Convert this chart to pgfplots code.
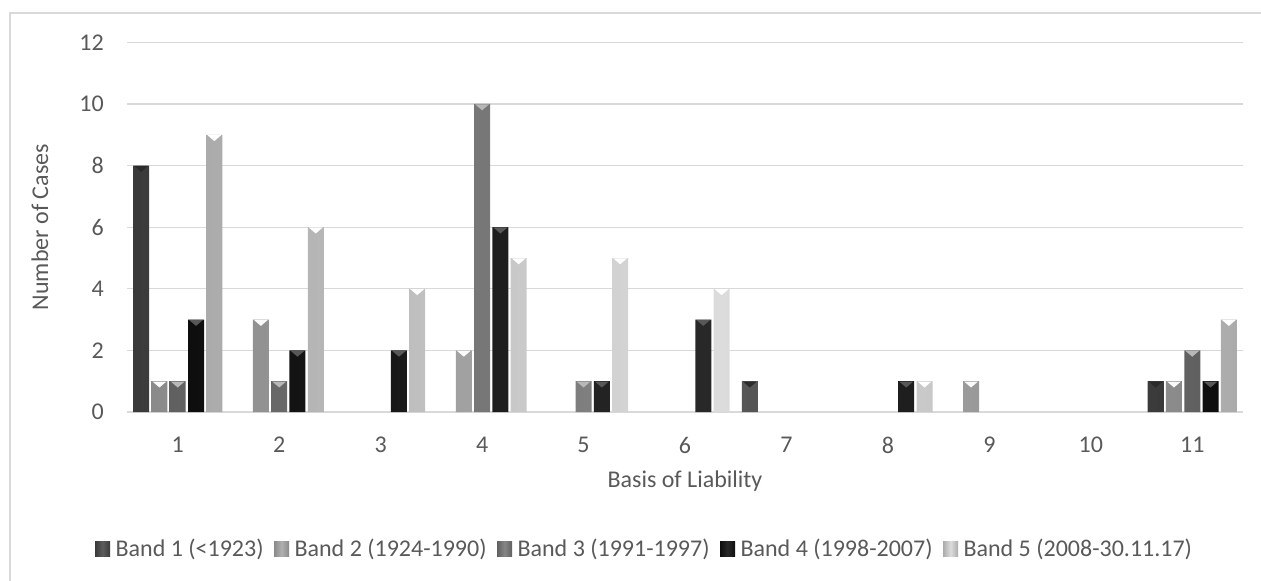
\documentclass[border=0pt]{standalone}
\usepackage{fontspec}
\setmainfont{Carlito}
\usepackage{pgfplots}
\pgfplotsset{compat=1.18}
\definecolor{txt}{HTML}{595959}
\definecolor{gridc}{HTML}{D9D9D9}
\definecolor{bAe}{HTML}{3A3A3A}\definecolor{bAm}{HTML}{5C5C5C}\definecolor{bAt}{HTML}{2A2A2A}
\definecolor{bBe}{HTML}{8A8A8A}\definecolor{bBm}{HTML}{B0B0B0}\definecolor{bBt}{HTML}{FAFAFA}
\definecolor{bCe}{HTML}{606060}\definecolor{bCm}{HTML}{868686}\definecolor{bCt}{HTML}{B8B8B8}
\definecolor{bDe}{HTML}{0E0E0E}\definecolor{bDm}{HTML}{282828}\definecolor{bDt}{HTML}{585858}
\definecolor{bEe}{HTML}{ABABAB}\definecolor{bEm}{HTML}{DCDCDC}\definecolor{bEt}{HTML}{FFFFFF}
\pgfplotsset{
  bandbar/.style n args={3}{draw=none, left color=#1, right color=#1, middle color=#2,
    nodes near coords={\tikz\path[left color=#3, right color=#3, middle color=#3] (0bp,0bp)--(14bp,0bp)--(7bp,-6bp)--cycle;},
    every node near coord/.append style={anchor=north, inner sep=0pt, outer sep=0pt, yshift=-0.3bp},
    legend image code/.code={\fill[##1] (0bp,-7.5bp) rectangle (15bp,7.5bp); \path (0bp,0bp) -- (18bp,0bp);}},
}
\newcommand\cfont{\fontsize{24bp}{28bp}\selectfont}
\begin{document}
\begin{tikzpicture}[font=\cfont]
\path[use as bounding box] (-127bp,-169bp) rectangle (1134bp,412bp);
\draw[gridc, line width=1.3bp] (-117bp,-175bp) -- (-117bp,399bp) -- (1140bp,399bp);
\begin{axis}[
  at={(0bp,0bp)}, anchor=south west,
  scale only axis, width=1116bp, height=369.6bp,
  xmin=0.5, xmax=11.5, ymin=0, ymax=12,
  xtick={1,...,11}, ytick={0,2,...,12},
  axis line style={draw=none}, major tick length=0pt,
  ymajorgrids, grid style={gridc, line width=1.3bp},
  ybar=2.3bp, bar width=16bp,
  tick label style={font=\cfont, text=txt},
  /pgf/number format/assume math mode=true,
  xticklabel style={anchor=center, yshift=-33bp},
  yticklabel style={anchor=east, inner sep=0pt, xshift=-23bp},
  xlabel={Basis of Liability}, ylabel={Number of Cases},
  label style={font=\cfont, text=txt},
  xlabel style={at={(axis description cs:0.5,-0.186)}, anchor=center},
  ylabel style={at={(axis description cs:-0.078,0.5)}, anchor=center},
  legend columns=5,
  legend style={at={(axis description cs:0.464,-0.370)}, anchor=center,
    draw=none, fill=none, font=\cfont, text=txt,
    /tikz/every even column/.append style={column sep=8bp},
    nodes={inner sep=2.5bp}},
]
\addplot[bandbar={bAe}{bAm}{bAt}] coordinates {(1,8) (7,1) (11,1)};
\addplot[bandbar={bBe}{bBm}{bBt}] coordinates {(1,1) (2,3) (4,2) (9,1) (11,1)};
\addplot[bandbar={bCe}{bCm}{bCt}] coordinates {(1,1) (2,1) (4,10) (5,1) (11,2)};
\addplot[bandbar={bDe}{bDm}{bDt}] coordinates {(1,3) (2,2) (3,2) (4,6) (5,1) (6,3) (8,1) (11,1)};
\addplot[bandbar={bEe}{bEm}{bEt}] coordinates {(1,9) (2,6) (3,4) (4,5) (5,5) (6,4) (8,1) (11,3)};
\legend{Band 1 (<1923), Band 2 (1924-1990), Band 3 (1991-1997), Band 4 (1998-2007), Band 5 (2008-30.11.17)}
\end{axis}
\end{tikzpicture}
\end{document}
